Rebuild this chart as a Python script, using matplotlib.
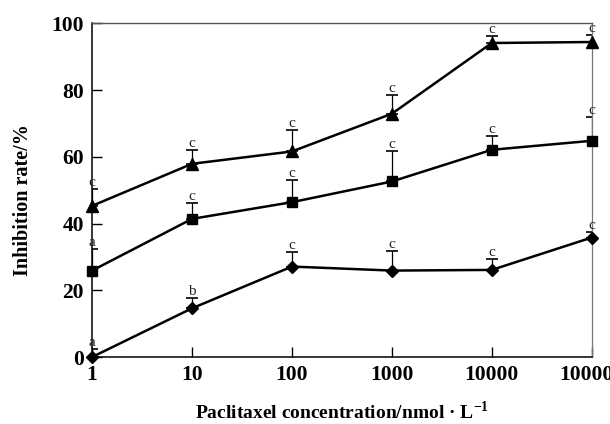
import matplotlib
matplotlib.use("Agg")
import matplotlib.pyplot as plt
from matplotlib.ticker import FixedLocator, FixedFormatter, NullLocator

plt.rcParams["font.family"] = ["Liberation Serif", "DejaVu Serif"]
plt.rcParams["mathtext.fontset"] = "custom"
plt.rcParams["mathtext.rm"] = "Liberation Serif:bold"
plt.rcParams["mathtext.bf"] = "Liberation Serif:bold"

conc = [1, 10, 100, 1000, 10000, 100000]
x_ticks = ["1", "10", "100", "1000", "10000", "100000"]

# triangles
tri_mean = [45.3, 57.9, 61.6, 72.9, 94.1, 94.4]
tri_err = [5.1, 4.2, 6.5, 5.7, 2.2, 2.1]
tri_sig = ["c", "c", "c", "c", "c", "c"]

# squares
sq_mean = [25.9, 41.4, 46.4, 52.6, 62.1, 64.8]
sq_err = [6.4, 4.9, 6.7, 9.0, 4.2, 7.1]
sq_sig = ["a", "c", "c", "c", "c", "c"]

# diamonds
dia_mean = [0.0, 14.6, 27.1, 25.9, 26.1, 35.8]
dia_err = [2.4, 3.0, 4.3, 5.9, 3.2, 1.6]
dia_sig = ["a", "b", "c", "c", "c", "c"]

series = [
    (tri_mean, tri_err, tri_sig, "^", 8),
    (sq_mean, sq_err, sq_sig, "s", 7.5),
    (dia_mean, dia_err, dia_sig, "D", 6),
]

fig = plt.figure(figsize=(6.1, 4.24), dpi=100)
ax = fig.add_axes([0.151, 0.158, 0.819, 0.787])

for mean, err, sig, marker, ms in series:
    ax.errorbar(conc, mean, yerr=[[0] * len(err), err], fmt="none",
                ecolor="black", elinewidth=0.9, capsize=4, capthick=1.2,
                zorder=2)
    ax.plot(conc, mean, color="black", linewidth=1.8, marker=marker,
            markersize=ms, markerfacecolor="black", markeredgecolor="black",
            zorder=3, clip_on=False)
    for xv, m, e, s in zip(conc, mean, err, sig):
        ax.annotate(s, (xv, m + e), xytext=(0, 0), textcoords="offset points",
                    ha="center", va="bottom", fontsize=11, color="#222222")

ax.set_xscale("log")
ax.set_xlim(1, 100000)
ax.set_ylim(0, 100)
ax.xaxis.set_major_locator(FixedLocator(conc))
ax.xaxis.set_major_formatter(FixedFormatter(x_ticks))
ax.xaxis.set_minor_locator(NullLocator())
ax.set_yticks([0, 20, 40, 60, 80, 100])

ax.tick_params(axis="both", direction="in", length=7, width=1,
               labelsize=15.5, pad=6)
for lab in ax.get_xticklabels() + ax.get_yticklabels():
    lab.set_fontweight("bold")

ax.spines["left"].set_linewidth(1.1)
ax.spines["bottom"].set_linewidth(1.1)
ax.spines["top"].set_color("#555555")
ax.spines["right"].set_color("#777777")
ax.spines["top"].set_linewidth(1.0)
ax.spines["right"].set_linewidth(0.9)

ax.set_xlabel(r"Paclitaxel concentration/nmol · L$^{-1}$", fontsize=14,
              fontweight="bold", va="center")
ax.xaxis.set_label_coords(0.5, -0.163)
ax.set_ylabel("Inhibition rate/%", fontsize=14.5, fontweight="bold",
              va="center")
ax.yaxis.set_label_coords(-0.138, 0.47)

fig.savefig("out.png", dpi=100)
